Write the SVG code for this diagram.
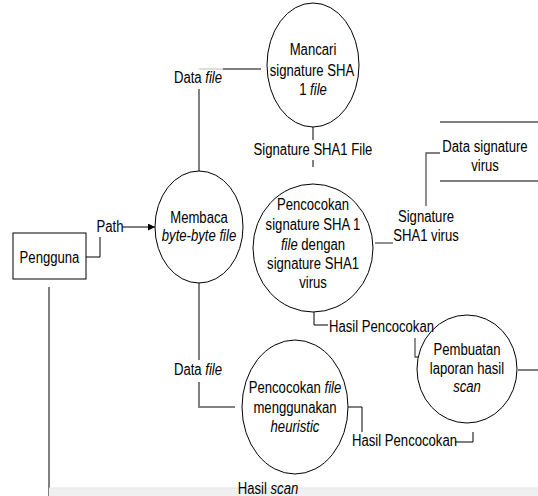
<svg xmlns="http://www.w3.org/2000/svg" width="538" height="496" viewBox="0 0 538 496">
<defs>
<style>
text{font-family:"Liberation Sans",Arial,sans-serif;font-size:16px;fill:#000;text-anchor:middle}
.l{text-anchor:start}
.i{font-style:italic}
.n{fill:#fff;stroke:#000;stroke-width:1}
.c{fill:none;stroke:#000;stroke-width:1}
.g{fill:none;stroke:#808080;stroke-width:2}
.lg{fill:none;stroke:#bbb;stroke-width:1}
.d{fill:none;stroke:#555;stroke-width:1.3}
</style>
<marker id="ah" viewBox="0 0 10 10" refX="10" refY="5" markerWidth="7" markerHeight="7" orient="auto" markerUnits="userSpaceOnUse"><path d="M0,0L10,5L0,10z" fill="#000"/></marker>
</defs>
<rect width="538" height="496" fill="#fff"/>
<g id="connectors">
<path class="g" d="M199,89V171"/>
<path class="lg" d="M199,69H223"/>
<path class="c" d="M223,69H261"/>
<path class="g" d="M199,283V360M199,382V407H235"/>
<path class="c" d="M313,127V140M313,160V167"/>
<path class="c" d="M86,257H100V237"/>
<path class="c" d="M122,227H155" marker-end="url(#ah)"/>
<path class="c" d="M49,287V496"/>
<path class="d" d="M375,243H393"/>
<path class="d" d="M426,206V153H440"/>
<path class="c" d="M314,312V325H328"/>
<path class="d" d="M415,338V357H420"/>
<path class="c" d="M348,407H362V432"/>
<path class="c" d="M455,442H473V432"/>
<path class="c" d="M518,370H538"/>
</g>
<g id="datastore">
<path class="c" d="M440,122H538M440,181H538"/>
<text transform="translate(485,152) scale(0.82,1)">Data signature</text>
<text transform="translate(485,171) scale(0.82,1)">virus</text>
</g>
<g id="pengguna">
<rect class="n" x="13" y="233" width="73" height="46"/>
<text transform="translate(49.5,263) scale(0.82,1)">Pengguna</text>
</g>
<g id="membaca">
<ellipse class="n" cx="199" cy="227" rx="44" ry="56"/>
<text transform="translate(199,223) scale(0.82,1)">Membaca</text>
<text transform="translate(199,241) scale(0.82,1)" class="i">byte-byte file</text>
</g>
<g id="mancari">
<ellipse class="n" cx="313" cy="65" rx="46" ry="62"/>
<text transform="translate(313,55) scale(0.82,1)">Mancari</text>
<text transform="translate(312,76) scale(0.82,1)">signature SHA</text>
<text transform="translate(313,95) scale(0.82,1)">1 <tspan class="i">file</tspan></text>
</g>
<g id="pencocokan-sig">
<ellipse class="n" cx="313" cy="248" rx="60" ry="64"/>
<text transform="translate(313,210) scale(0.82,1)">Pencocokan</text>
<text transform="translate(313,230) scale(0.82,1)">signature SHA 1</text>
<text transform="translate(313,250) scale(0.82,1)"><tspan class="i">file</tspan> dengan</text>
<text transform="translate(313,269) scale(0.82,1)">signature SHA1</text>
<text transform="translate(313,288) scale(0.82,1)">virus</text>
</g>
<g id="pencocokan-heur">
<ellipse class="n" cx="295" cy="407" rx="53" ry="67"/>
<text transform="translate(295,393) scale(0.82,1)">Pencocokan <tspan class="i">file</tspan></text>
<text transform="translate(295,413) scale(0.82,1)">menggunakan</text>
<text transform="translate(295,432) scale(0.82,1)" class="i">heuristic</text>
</g>
<g id="pembuatan">
<ellipse class="n" cx="467" cy="369" rx="50" ry="54"/>
<text transform="translate(467,355) scale(0.82,1)">Pembuatan</text>
<text transform="translate(467,374) scale(0.82,1)">laporan hasil</text>
<text transform="translate(467,392) scale(0.82,1)" class="i">scan</text>
</g>
<g id="labels">
<text transform="translate(198,83) scale(0.82,1)">Data <tspan class="i">file</tspan></text>
<text transform="translate(313,155) scale(0.82,1)">Signature SHA1 File</text>
<text transform="translate(110,232) scale(0.82,1)">Path</text>
<text transform="translate(426,222) scale(0.82,1)">Signature</text>
<text transform="translate(426,241) scale(0.82,1)">SHA1 virus</text>
<text transform="translate(329,332) scale(0.82,1)" class="l">Hasil Pencocokan</text>
<text transform="translate(198,375) scale(0.82,1)">Data <tspan class="i">file</tspan></text>
<text transform="translate(352,446) scale(0.82,1)" class="l">Hasil Pencocokan</text>
</g>
<rect x="49" y="488" width="489" height="8" fill="#f0f0f0"/>
<path d="M49,488H538" stroke="#e4e4e4" stroke-width="1"/>
<text transform="translate(268,494) scale(0.82,1)">Hasil <tspan class="i">scan</tspan></text>
</svg>
